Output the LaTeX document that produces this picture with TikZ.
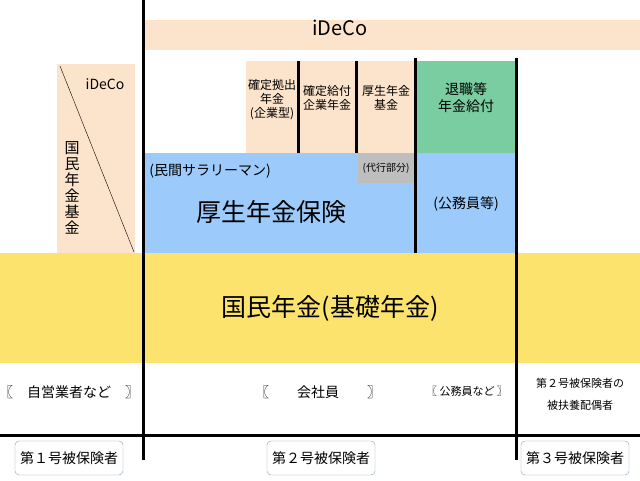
\documentclass[tikz,border=0pt]{standalone}
\usepackage{fontspec}
\setmainfont{Noto Sans CJK JP}
\usetikzlibrary{positioning}
\definecolor{peach}{HTML}{FCE4CC}
\definecolor{mint}{HTML}{7ACDA0}
\definecolor{sky}{HTML}{9CCBFB}
\definecolor{ashgrey}{HTML}{BEBEBE}
\definecolor{sun}{HTML}{FCE36E}
\definecolor{frame}{HTML}{7F9DB9}
\begin{document}
\begin{tikzpicture}[x=1pt, y=-1pt,
    block/.style={inner sep=0pt, align=center, font=\fontsize{11}{13}\selectfont},
    wall/.style={line width=3pt},
    tag/.style={draw=frame, rounded corners=4pt, minimum width=108pt, minimum height=34pt,
                inner sep=0pt, font=\fontsize{14}{16}\selectfont}
]
\useasboundingbox (0,0) rectangle (640,480);
% bands
\fill[sun] (0,253) rectangle (640,363);
\fill[peach] (143,20) rectangle (640,50);
\fill[peach] (57,64) rectangle (135,253);
\fill[peach] (246,61) rectangle (415,153);
\fill[mint] (415,61) rectangle (516,153);
\fill[sky] (143,153) rectangle (516,253);
\fill[ashgrey] (358,153) rectangle (415,183);
\draw (60,66) -- (134,252);
% texts
\node[block, font=\fontsize{20}{22}\selectfont] (ideco) at (340,28) {iDeCo};
\node[block, font=\fontsize{14}{16}\selectfont] (idecoL) at (105,84) {iDeCo};
\node[block, font=\fontsize{15}{16}\selectfont] (kikin) at (72,188) {国\\民\\年\\金\\基\\金};
\node[block, font=\fontsize{12}{14}\selectfont] (dc) at (272,100) {確定拠出\\年金\\(企業型)};
\node[block, font=\fontsize{12}{14}\selectfont] (db) at (327,98) {確定給付\\企業年金};
\node[block, font=\fontsize{12}{14}\selectfont] (kk) at (386,98) {厚生年金\\基金};
\node[block, font=\fontsize{14}{17}\selectfont] (taishoku) at (466,98) {退職等\\年金給付};
\node[block, font=\fontsize{10}{12}\selectfont] (daiko) at (386,168) {(代行部分)};
\node[block, font=\fontsize{14}{16}\selectfont] (minkan) at (210,171) {(民間サラリーマン)};
\node[block, font=\fontsize{25}{27}\selectfont] (kosei) at (271,212) {厚生年金保険};
\node[block, font=\fontsize{14}{16}\selectfont] (komuin) at (466,204) {(公務員等)};
\node[block, font=\fontsize{25}{27}\selectfont] (kokumin) at (330,308) {国民年金(基礎年金)};
\node[block, font=\fontsize{14}{16}\selectfont] (jiei) at (69,392) {〖\quad 自営業者など\quad 〗};
\node[block, font=\fontsize{14}{16}\selectfont] (kaisha) at (318,392) {〖\qquad 会社員\qquad 〗};
\node[block, font=\fontsize{11}{13}\selectfont] (komuin2) at (467,391) {〖\ 公務員など\ 〗};
\node[block, font=\fontsize{11}{22}\selectfont] (haigu) at (580,394) {第２号被保険者の\\被扶養配偶者};
% walls
\draw[wall] (143,0) -- (143,460);
\draw[wall] (516,58) -- (516,460);
\draw[wall] (415,58) -- (415,253);
\draw[wall] (298,61) -- (298,153);
\draw[wall] (356,61) -- (356,153);
\draw[wall] (0,435) -- (640,435);
% categories
\node[tag] (dai1) at (69,458) {第１号被保険者};
\node[tag] (dai2) at (321,458) {第２号被保険者};
\node[tag] (dai3) at (575,458) {第３号被保険者};
\end{tikzpicture}
\end{document}
